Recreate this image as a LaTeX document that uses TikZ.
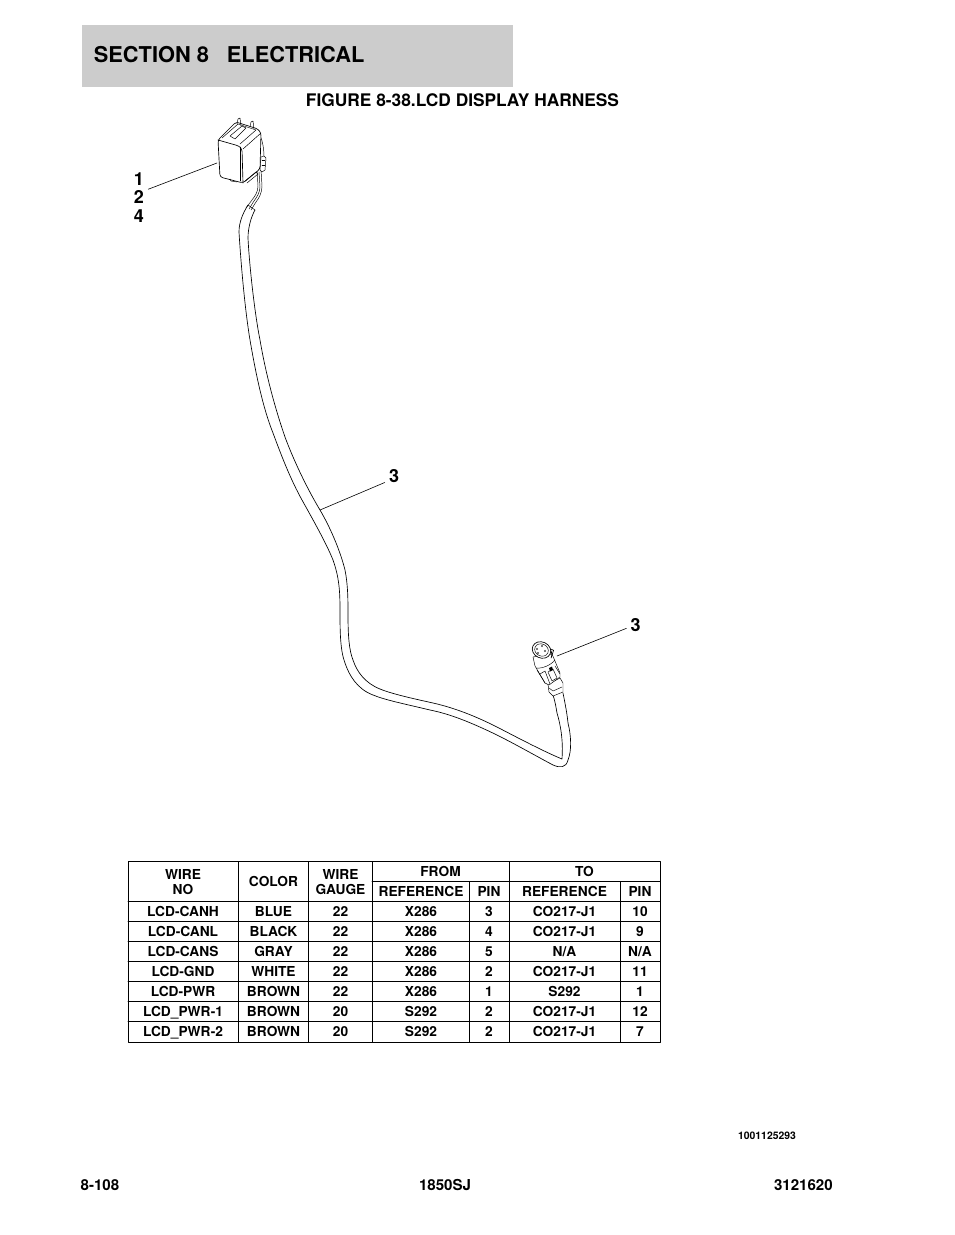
\documentclass[tikz,border=0pt]{standalone}
\usepackage{fontspec}
\setmainfont{TeX Gyre Heros}
\usetikzlibrary{positioning}
\definecolor{bandgray}{HTML}{CCCCCC}
\tikzset{
    cell/.style={font=\fontsize{10.3}{12}\bfseries\selectfont, inner sep=0pt, text height=7.4pt, text depth=0pt},
    headcell/.style={font=\fontsize{10.3}{11.3}\bfseries\selectfont, inner sep=0pt, align=center},
    callout/.style={font=\fontsize{13.5}{14}\bfseries\selectfont, inner sep=3pt},
    foot/.style={font=\fontsize{11.3}{12}\bfseries\selectfont, inner sep=0pt},
    leader/.style={draw, line width=0.45pt},
    wire/.style={draw, line width=0.5pt},
    fine/.style={draw, line width=0.35pt},
    grid/.style={draw, line width=0.6pt},
}
\begin{document}
\begin{tikzpicture}[x=0.75pt, y=-0.75pt, line join=round, line cap=round]
    \useasboundingbox (0,0) rectangle (954,1235);
    \fill[white] (0,0) rectangle (954,1235);

    % title band
    \node[fill=bandgray, minimum width=323.25pt, minimum height=46.5pt, inner sep=0pt] (band) at (297.5,56) {};
    \node[font=\fontsize{16.35}{18}\bfseries\selectfont, inner sep=0pt, anchor=west] (title) at (93.6,55) {SECTION 8\hspace{13.5pt}ELECTRICAL};
    \node[font=\fontsize{13}{15}\bfseries\selectfont, inner sep=0pt] (figname) at (462.5,100) {FIGURE 8-38.LCD DISPLAY HARNESS};

    % short lead and clip behind the housing
    \draw[fine] (260,135) .. controls (263,142) and (264,150) .. (264,157);
    \draw[fine] (257,170) -- (258,186) .. controls (258,192) and (255,196) .. (252,200) -- (246,208);
    \draw[fine] (261,170) -- (262,186) .. controls (262,193) and (259,198) .. (256,202) -- (251,210);
    \draw[fine] (259,172) -- (260,187) .. controls (260,192) and (257,197) .. (254,201) -- (249,209);
    \draw[fine] (248,205) -- (255,210);
    \draw[fine, fill=white] (261,157) -- (264,156) -- (266,158) -- (265,170) -- (262,172) -- (260,170) -- cycle;
    \draw[fine] (262,160) -- (265,160) (262,165) -- (265,165);

    % display housing
    \draw[wire, fill=white, rounded corners=2pt] (218,140) -- (236,122) -- (258,129) -- (261,133) -- (260,169) -- (243,183) -- (220,177) -- cycle;
    \draw[wire, rounded corners=2pt] (218,140) -- (239,146) -- (242,149) -- (243,183);
    \draw[fine] (240,147) -- (240,181);
    \draw[fine] (243,149) -- (261,133);
    \draw[fine] (222,138) -- (238,124) -- (256,130) -- (240,144);
    \draw[fine] (230,136) -- (242,126) -- (246,128) -- (235,139) -- cycle;
    \draw[fine] (237,124) -- (238,119) -- (240,118) -- (241,126);
    \draw[fine] (250,127) -- (251,122) -- (253,121) -- (254,129);
    \draw[fine] (245,181) -- (256,172) -- (258,174) -- (247,183);
    \draw[fine] (230,179) -- (231,181) -- (237,182);

    % cable
    \draw[wire] (248,205) .. controls (243,213) and (239,222) .. (239,232)
        .. controls (241,265) and (245,310) .. (250,340)
        .. controls (256,375) and (263,408) .. (273,433)
        .. controls (283,460) and (291,480) .. (302,500)
        .. controls (316,525) and (327,545) .. (333,560)
        .. controls (339,577) and (340,590) .. (340,610)
        .. controls (340,630) and (340,650) .. (345,663)
        .. controls (349,675) and (357,689) .. (373,695)
        .. controls (385,700) and (405,704) .. (430,710)
        .. controls (450,714) and (470,722) .. (497,735)
        .. controls (515,744) and (538,757) .. (553,765)
        .. controls (560,768) and (566,768) .. (568,760)
        .. controls (572,750) and (571,735) .. (568,723)
        .. controls (567,713) and (565,703) .. (563,693);
    \draw[wire] (255,210) .. controls (251,217) and (248,228) .. (248,238)
        .. controls (249,260) and (254,310) .. (260,340)
        .. controls (266,375) and (275,408) .. (285,437)
        .. controls (292,456) and (305,485) .. (320,510)
        .. controls (330,527) and (340,550) .. (345,570)
        .. controls (348,585) and (348,600) .. (348,615)
        .. controls (348,635) and (349,650) .. (353,660)
        .. controls (357,672) and (365,683) .. (380,689)
        .. controls (392,694) and (415,699) .. (433,703)
        .. controls (455,708) and (475,716) .. (497,727)
        .. controls (520,739) and (545,752) .. (562,759)
        .. controls (563,745) and (562,730) .. (557,713)
        .. controls (556,707) and (555,701) .. (553,695);

    % round plug
    \draw[fine, fill=white] (548,684) -- (549,692) -- (553,696) -- (563,692) -- (563,683) -- (560,678) -- cycle;
    \draw[fine] (549,688) -- (553,691) -- (562,687);
    \draw[fine, fill=white] (533,657) -- (535,666) -- (545,683) -- (549,685) -- (560,677) -- (560,673) -- (552,654) -- cycle;
    \draw[fine] (536,668) .. controls (542,669) and (551,665) .. (555,660);
    \draw[fine] (537,670) -- (545,683);
    \draw[fine] (540,674) -- (545,671) -- (550,684);
    \draw[fine] (555,666) -- (560,674);
    \draw[fine, fill=white] (548,672) -- (553,669) -- (557,678) -- (552,681) -- cycle;
    \fill (549,668) -- (552,666.5) -- (553,670) -- (550,671.5) -- cycle;
    \draw[wire, fill=white, rotate around={-25:(542.5,654)}] (534,646) -- (534,654) arc[start angle=180, end angle=360, x radius=9, y radius=8.5] -- (551,646) -- cycle;
    \draw[wire, fill=white, rotate around={-25:(541.5,650)}] (541.5,650) ellipse (9.5 and 8);
    \draw[fine, rotate around={-25:(541.5,650)}] (541.5,650) ellipse (7 and 6);
    \fill[black!70] (537,649) circle (1.1) (542,646) circle (1.1) (538,653) circle (1.1) (545,651) circle (1.1);

    % callouts
    \node[callout] (labA) at (139,179) {1};
    \node[callout] (labB) at (139,197) {2};
    \node[callout] (labC) at (139,216) {4};
    \node[callout] (labD) at (394,476) {3};
    \node[callout] (labE) at (635.6,625) {3};
    \coordinate (tipB) at (217,163);
    \coordinate (tipD) at (320,510);
    \coordinate (tipE) at (557,656);
    \draw[leader] (labB.40) -- (tipB);
    \draw[leader] (labD.215) -- (tipD);
    \draw[leader] (labE.200) -- (tipE);

    % wire table
    \draw[grid] (128,861.5) rectangle (660.5,1042);
    \draw[grid] (128,901.5) -- (660.5,901.5);
    \foreach \rowy in {921.5,941.5,961.5,981.5,1001.5,1021.5}
        \draw[grid] (128,\rowy) -- (660.5,\rowy);
    \draw[grid] (372,881.5) -- (660.5,881.5);
    \foreach \colx in {238,308,372,509}
        \draw[grid] (\colx,861.5) -- (\colx,1042);
    \foreach \colx in {469,620}
        \draw[grid] (\colx,881.5) -- (\colx,1042);

    \node[headcell] (hWire) at (183,882) {WIRE\\NO};
    \node[cell] (hColor) at (273.5,881.7) {COLOR};
    \node[headcell] (hGauge) at (340.5,882) {WIRE\\GAUGE};
    \node[cell] (hFrom) at (440.5,871.7) {FROM};
    \node[cell] (hTo) at (584.5,871.7) {TO};
    \node[cell] (hRefA) at (421,891.7) {REFERENCE};
    \node[cell] (hPinA) at (489,891.7) {PIN};
    \node[cell] (hRefB) at (564.5,891.7) {REFERENCE};
    \node[cell] (hPinB) at (640,891.7) {PIN};

    \foreach \rowy/\wno/\wcolor/\wgauge/\fref/\fpin/\tref/\tpin in {
        911.7/LCD-CANH/BLUE/22/X286/3/CO217-J1/10,
        931.7/LCD-CANL/BLACK/22/X286/4/CO217-J1/9,
        951.7/LCD-CANS/GRAY/22/X286/5/N\slash A/N\slash A,
        971.7/LCD-GND/WHITE/22/X286/2/CO217-J1/11,
        991.7/LCD-PWR/BROWN/22/X286/1/S292/1,
        1011.7/LCD\_PWR-1/BROWN/20/S292/2/CO217-J1/12,
        1031.7/LCD\_PWR-2/BROWN/20/S292/2/CO217-J1/7} {
        \node[cell] at (183,\rowy) {\wno};
        \node[cell] at (273.5,\rowy) {\wcolor};
        \node[cell] at (340.5,\rowy) {\wgauge};
        \node[cell] at (421,\rowy) {\fref};
        \node[cell] at (489,\rowy) {\fpin};
        \node[cell] at (564.5,\rowy) {\tref};
        \node[cell] at (640,\rowy) {\tpin};
    }

    % footer
    \node[font=\fontsize{7.8}{9}\bfseries\selectfont, inner sep=0pt] (partno) at (767,1136) {1001125293};
    \node[foot, anchor=west] (pageno) at (80.4,1185) {8-108};
    \node[foot] (model) at (445,1185) {1850SJ};
    \node[foot, anchor=east] (manual) at (833,1185) {3121620};
\end{tikzpicture}
\end{document}
